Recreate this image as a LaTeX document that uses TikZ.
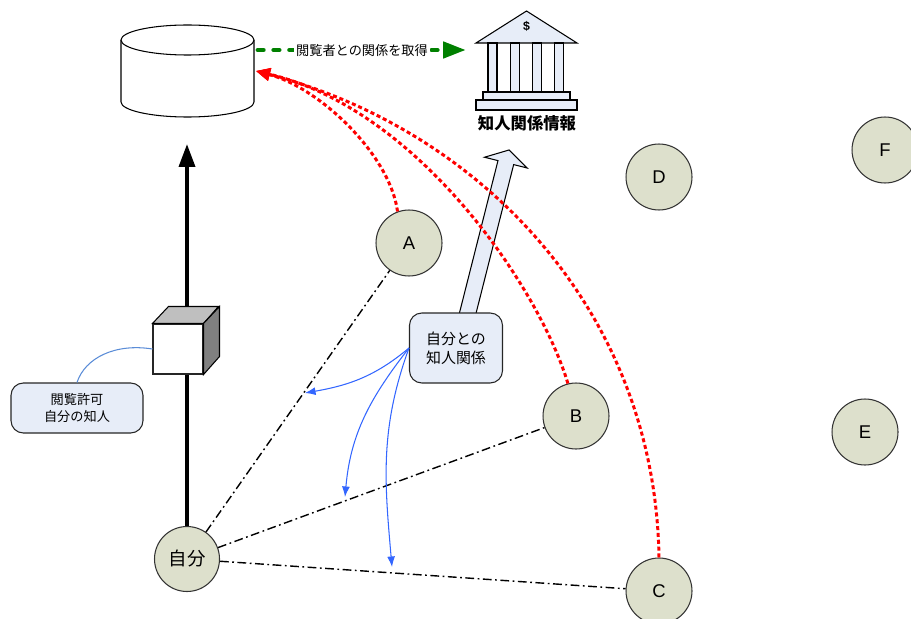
\documentclass[tikz,border=0pt]{standalone}
\usepackage{fontspec}
\setmainfont{Liberation Sans}
\newfontfamily\jp{Noto Sans CJK JP}
\usepackage{tikz}
\usetikzlibrary{arrows.meta,calc,positioning}
\definecolor{personFill}{RGB}{221,224,204}
\definecolor{noteFill}{RGB}{231,237,248}
\definecolor{linkBlue}{RGB}{51,102,255}
\definecolor{linkSoft}{RGB}{90,140,215}
\definecolor{fetchGreen}{RGB}{0,128,0}
\definecolor{cubeTop}{RGB}{191,191,191}
\definecolor{cubeSide}{RGB}{128,128,128}

\begin{document}
\begin{tikzpicture}[x=0.02cm,y=0.02cm,line width=0.6pt,
    person/.style={circle,draw=black!80,fill=personFill,minimum size=1.32cm,
                   inner sep=0pt,font=\fontsize{10.5}{12}\selectfont},
    notebox/.style={rounded corners=7pt,draw=black!85,fill=noteFill,
                    align=center,inner sep=0pt},
    relline/.style={line width=0.8pt,dash pattern=on 5pt off 2pt on 1pt off 2pt},
    fetchline/.style={red,line width=1.7pt,dash pattern=on 2.3pt off 1.6pt,
                      -{Triangle[length=8pt,width=7pt]}},
    hint/.style={linkBlue,line width=0.6pt,-{Latex[length=6pt,width=4.5pt]}}]
\useasboundingbox (0,0) rectangle (911,-618);

% database
\draw[fill=white] (121,-40) -- (121,-102)
    arc[start angle=180,end angle=360,x radius=66.5,y radius=15] -- (254,-40);
\draw[fill=white] (187.5,-40) ellipse[x radius=66.5,y radius=15];
\coordinate (dbout) at (258,-50);
\coordinate (dbin) at (256,-71);
\coordinate (dbbottom) at (187,-144);

% bank
\node[font=\jp\bfseries\fontsize{9.3}{11}\selectfont,inner sep=1pt] (bank) at (527,-123) {知人関係情報};
\draw[fill=noteFill] (476,-43) -- (526.5,-11) -- (577,-43) -- cycle;
\foreach \cx in {492.5,515,537,559}
    \draw[fill=noteFill] (\cx-4.5,-43) rectangle (\cx+4.5,-92);
\draw[fill=noteFill] (483,-92) rectangle (570,-100);
\draw[fill=noteFill] (476,-100) rectangle (577,-110);
\node[font=\bfseries\fontsize{7}{8}\selectfont,inner sep=0pt] (dollar) at (526.5,-26) {\$};
\coordinate (bankin) at (466,-50);

\draw[fetchGreen,line width=2.8pt,dash pattern=on 3pt off 6pt,line cap=round,
      -{Triangle[length=13pt,width=9pt]}] (dbout) --
    node[fill=white,text=black,inner sep=1pt,font=\jp\fontsize{7.5}{9}\selectfont] (fetchlabel)
    {閲覧者との関係を取得} (bankin);

% people
\node[person,minimum size=1.3cm,font=\jp\fontsize{10.5}{12}\selectfont] (self) at (187,-559) {自分};
\node[person] (a) at (409,-243) {A};
\node[person] (b) at (576,-416) {B};
\node[person] (c) at (659,-591) {C};
\node[person] (d) at (659,-177) {D};
\node[person] (e) at (865,-432) {E};
\node[person] (f) at (885,-150) {F};

\draw[relline] (self) -- (a);
\draw[relline] (self) -- (b);
\draw[relline] (self) -- (c);

% access path with gate
\draw[line width=2.2pt,-{Triangle[length=13pt,width=9pt]}] (self) -- (dbbottom);
\node[draw=black!85,fill=white,minimum size=1cm,inner sep=0pt] (gate) at (178,-349) {};
\draw[fill=cubeTop] (gate.north west) -- ++(16,17) -- ++(50,0) -- (gate.north east) -- cycle;
\draw[fill=cubeSide] (gate.north east) -- ++(16,17) -- ++(0,-50) -- (gate.south east) -- cycle;

\node[notebox,minimum width=2.64cm,minimum height=1cm,
      font=\jp\fontsize{7.5}{10}\selectfont] (perm) at (77,-408) {閲覧許可\\自分の知人};
\draw[linkSoft] (perm.north) .. controls (85,-358) and (115,-343) .. (gate.west);

% relation lookup
\coordinate (hs) at (466,-320);
\coordinate (ht) at (509,-150);
\coordinate (hb) at ($(ht)!7.4pt!(hs)$);
\draw[fill=noteFill] ($(hs)!4.6pt!90:(ht)$) -- ($(hb)!4.6pt!90:(ht)$)
    -- ($(hb)!12.5pt!90:(ht)$) -- (ht) -- ($(hb)!12.5pt!-90:(ht)$)
    -- ($(hb)!4.6pt!-90:(ht)$) -- ($(hs)!4.6pt!-90:(ht)$) -- cycle;

\node[notebox,minimum width=1.86cm,minimum height=1.4cm,
      font=\jp\fontsize{8.5}{11}\selectfont] (rel) at (456,-348) {自分との\\知人関係};

\coordinate (pa) at (305,-393);
\coordinate (pb) at (345,-497);
\coordinate (pc) at (392,-567);
\draw[hint] (rel.west) to[out=220,in=10] (pa);
\draw[hint] (rel.west) to[out=232,in=85] (pb);
\draw[hint] (rel.west) to[out=250,in=95] (pc);

% requests to the database
\draw[fetchline] (a.110) .. controls (390,-155) and (320,-88) .. (dbin);
\draw[fetchline] (b.104) .. controls (540,-290) and (420,-110) .. (dbin);
\draw[fetchline] (c.north) .. controls (655,-310) and (480,-130) .. (dbin);
\end{tikzpicture}
\end{document}
